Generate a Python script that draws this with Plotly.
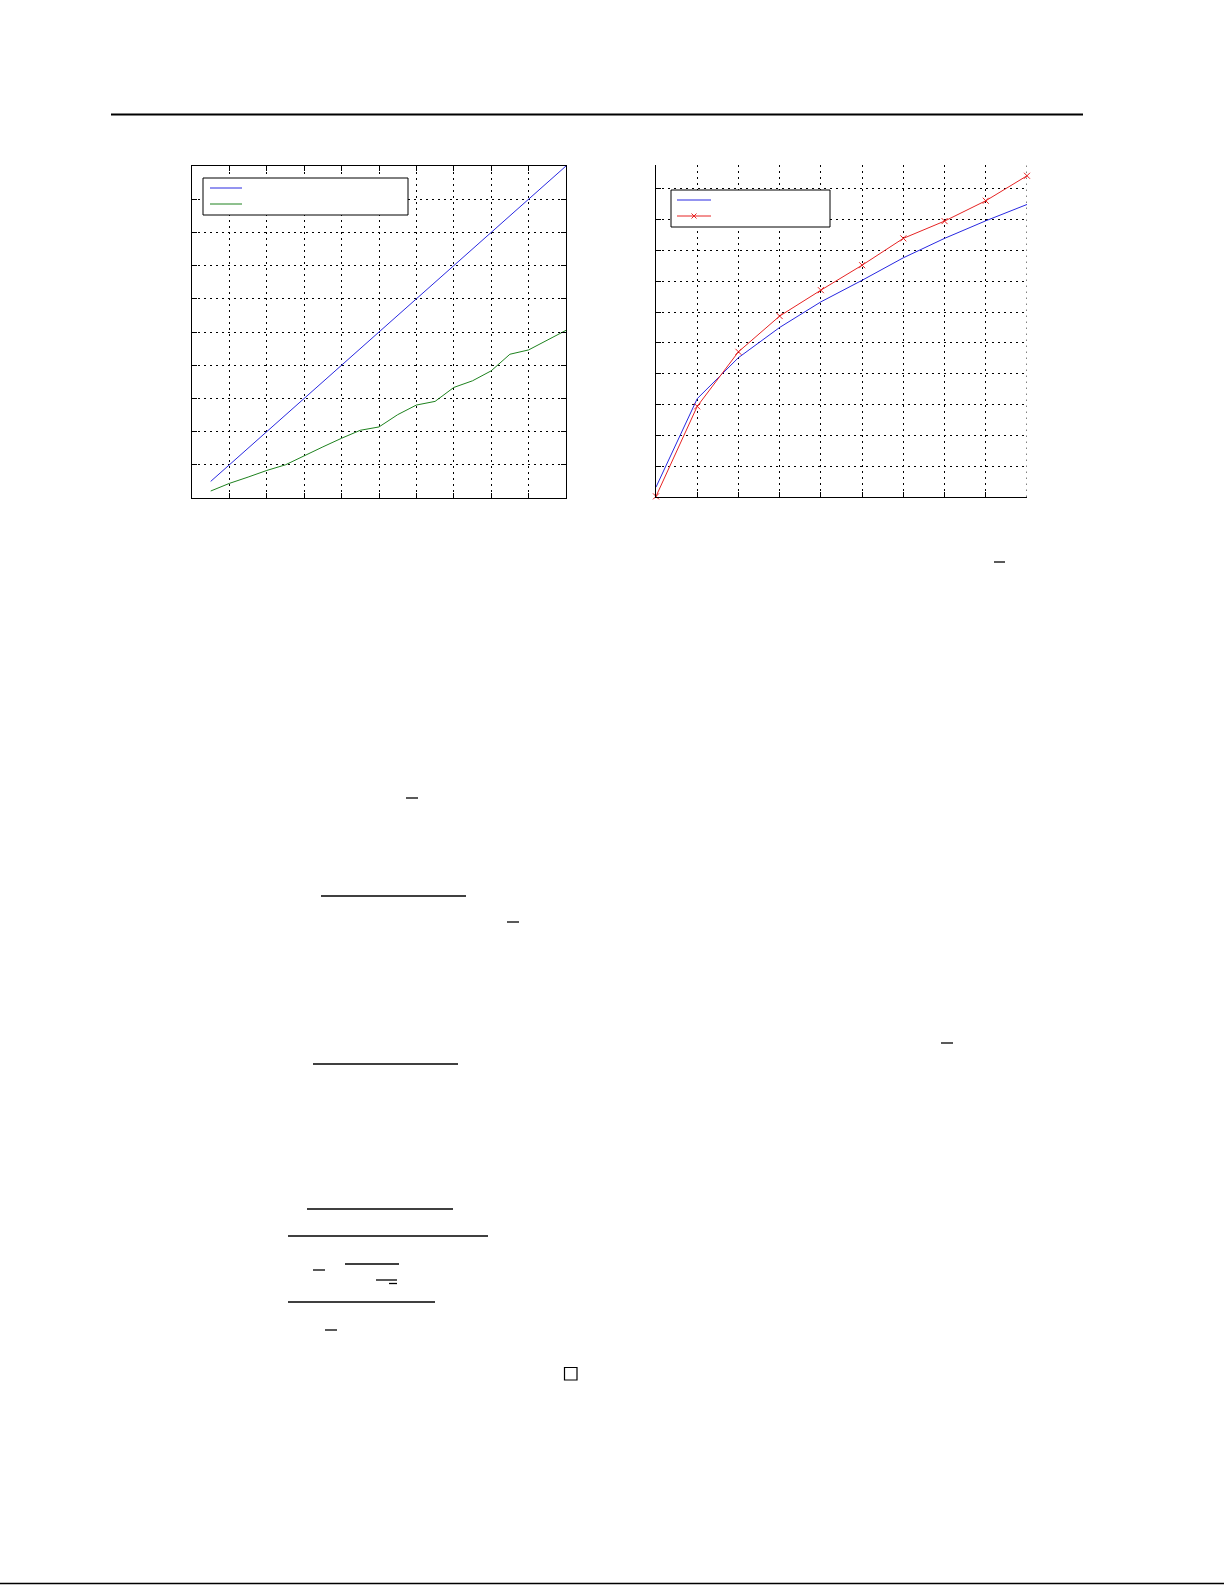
import plotly.graph_objects as go

W, H = 1225, 1585

# left panel: two curves sampled every 0.5
x_left = [0.5, 1.0, 1.5, 2.0, 2.5, 3.0, 3.5, 4.0, 4.5, 5.0,
          5.5, 6.0, 6.5, 7.0, 7.5, 8.0, 8.5, 9.0, 9.5, 10.0]
blue_left = [0.5, 1.0, 1.5, 2.0, 2.5, 3.0, 3.5, 4.0, 4.5, 5.0,
             5.5, 6.0, 6.5, 7.0, 7.5, 8.0, 8.5, 9.0, 9.5, 10.0]
green_left = [0.21, 0.44, 0.63, 0.83, 1.00, 1.28, 1.54, 1.80, 2.04, 2.14,
              2.51, 2.80, 2.91, 3.33, 3.53, 3.83, 4.33, 4.46, 4.75, 5.05]

# right panel: blue line and red line with x markers
x_right = [0, 1, 2, 3, 4, 5, 6, 7, 8, 9]
blue_right = [0.32, 3.19, 4.52, 5.50, 6.33, 7.03, 7.76, 8.39, 8.96, 9.49]
red_right = [0.02, 2.94, 4.71, 5.87, 6.71, 7.52, 8.39, 8.95, 9.61, 10.42]

BLUE = 'rgb(40,40,225)'
GREEN = 'rgb(30,130,30)'
RED = 'rgb(230,35,35)'
DOTS = '1.5px,4.5px'


def px(x):
    return x / W


def py(y):
    return 1 - y / H


fig = go.Figure()

fig.add_trace(go.Scatter(x=x_left, y=blue_left, mode='lines',
                         line=dict(color=BLUE, width=1), xaxis='x', yaxis='y'))
fig.add_trace(go.Scatter(x=x_left, y=green_left, mode='lines',
                         line=dict(color=GREEN, width=1), xaxis='x', yaxis='y'))
fig.add_trace(go.Scatter(x=x_right, y=blue_right, mode='lines',
                         line=dict(color=BLUE, width=1), xaxis='x2', yaxis='y2'))
fig.add_trace(go.Scatter(x=x_right, y=red_right, mode='lines+markers',
                         line=dict(color=RED, width=1),
                         marker=dict(symbol='x-thin', size=6,
                                     line=dict(color=RED, width=1)),
                         cliponaxis=False, xaxis='x2', yaxis='y2'))

grid = dict(showgrid=True, gridcolor='black', gridwidth=1, griddash=DOTS,
            zeroline=False, showticklabels=False, ticks='inside', ticklen=5,
            tickwidth=1, tickcolor='black', showline=True, linecolor='black',
            linewidth=1, dtick=1, tick0=0)

fig.update_layout(
    width=W, height=H,
    margin=dict(l=0, r=0, t=0, b=0),
    paper_bgcolor='white', plot_bgcolor='white',
    showlegend=False,
    xaxis=dict(grid, domain=[px(192), px(566)], range=[0, 10], mirror='ticks',
               anchor='y'),
    yaxis=dict(grid, domain=[py(498), py(166)], range=[0, 10], mirror='ticks',
               anchor='x'),
    xaxis2=dict(grid, domain=[px(656), px(1027)], range=[0, 9], anchor='y2'),
    yaxis2=dict(grid, domain=[py(497), py(165)], range=[0, 10.77], anchor='x2'),
)

shapes = []

# plotly skips the gridline on the open right edge of the right panel
shapes.append(dict(type='line', xref='x2', yref='y2 domain', x0=9, x1=9, y0=0, y1=1,
                   line=dict(color='black', width=1, dash=DOTS), layer='below'))


def seg(x0, y0, x1, y1, w=1.3, color='black'):
    shapes.append(dict(type='line', xref='paper', yref='paper',
                       x0=px(x0), y0=py(y0), x1=px(x1), y1=py(y1),
                       line=dict(color=color, width=w)))


def box(x0, y0, x1, y1, w=1, fill='white'):
    shapes.append(dict(type='rect', xref='paper', yref='paper',
                       x0=px(x0), y0=py(y0), x1=px(x1), y1=py(y1),
                       line=dict(color='black', width=w), fillcolor=fill))


# page rules
seg(111, 114.5, 1083, 114.5, w=2)
seg(0, 1583.5, 1224, 1583.5, w=1.5)

# legends
box(203, 178, 408, 215)
seg(210, 188, 242, 188, w=1, color=BLUE)
seg(210, 204, 242, 204, w=1, color=GREEN)

box(671, 190, 830, 227)
seg(677, 200, 711, 200, w=1, color=BLUE)
seg(677, 216, 711, 216, w=1, color=RED)
seg(691.5, 213.5, 696.5, 218.5, w=1, color=RED)
seg(691.5, 218.5, 696.5, 213.5, w=1, color=RED)

# leftover rules from the text body (fraction bars, overlines)
body_rules = [
    (994, 1005, 562), (406, 418, 798), (321, 466, 896), (507, 519, 922),
    (941, 953, 1043), (313, 458, 1064), (307, 453, 1209), (288, 488, 1236),
    (345, 399, 1264), (313, 325, 1270), (376, 397, 1280), (389, 397, 1283.5),
    (288, 435, 1302), (325, 337, 1330),
]
for x0, x1, y in body_rules:
    seg(x0, y, x1, y)

# end-of-proof square
box(564.5, 1367.5, 577, 1380, w=1.2, fill='rgba(0,0,0,0)')

fig.update_layout(shapes=shapes)

fig.write_html("out.html", config={'displayModeBar': False},
               post_script="document.body.style.margin='0';")
